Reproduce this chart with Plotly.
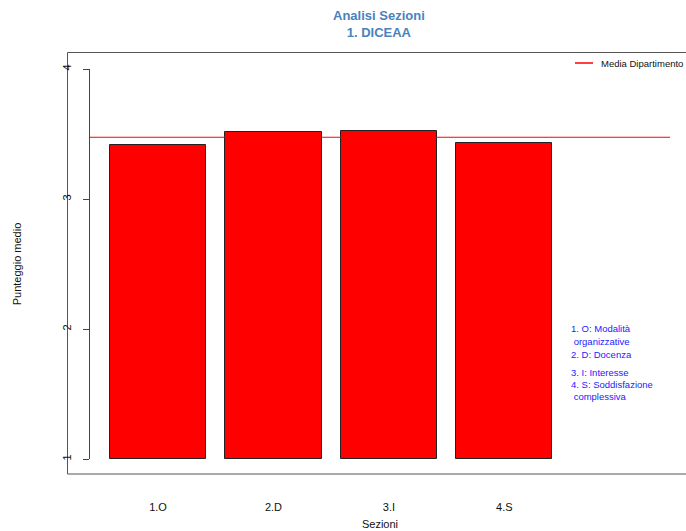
import plotly.graph_objects as go

categories = ["1.O", "2.D", "3.I", "4.S"]
values = [3.415, 3.513, 3.522, 3.433]
media_dipartimento = 3.475
y_ticks = [1, 2, 3, 4]
bar_positions = [0.7, 1.9, 3.1, 4.3]
title_lines = ["Analisi Sezioni", "1. DICEAA"]
legenda_sezioni = [
    ("1. O: Modalità", 328),
    (" organizzative", 341),
    ("2. D: Docenza", 354),
    ("3. I: Interesse", 372),
    ("4. S: Soddisfazione", 384),
    (" complessiva", 396),
]

FONT = "Liberation Sans, Arial, Helvetica, sans-serif"
W, H = 686, 531
L, R, T, B = 90, 16, 69, 72
PW, PH = W - L - R, H - T - B

def px_x(p):
    return (p - L) / PW

def px_y(p):
    return (H - B - p) / PH

xr = [-0.007, 6.022]

fig = go.Figure()
fig.add_trace(go.Bar(
    x=bar_positions, y=[v - 1 for v in values], base=1, width=1.0,
    marker=dict(color="#ff0000", line=dict(color="#222222", width=1)),
    showlegend=False, hovertext=[str(v) for v in values],
))
fig.add_trace(go.Scatter(
    x=xr, y=[media_dipartimento, media_dipartimento], mode="lines",
    line=dict(color="#ff0000", width=1.2), name="Media Dipartimento",
    showlegend=False,
))

shapes = [
    dict(type="rect", xref="paper", yref="paper",
         x0=px_x(67.5), x1=px_x(700), y0=px_y(474), y1=px_y(52.5),
         line=dict(color="#555555", width=1), fillcolor="rgba(0,0,0,0)", layer="below"),
    dict(type="line", xref="paper", yref="paper",
         x0=px_x(575), x1=px_x(593), y0=px_y(63), y1=px_y(63),
         line=dict(color="#ff0000", width=1.5)),
]

annotations = [
    dict(text="<br>".join("<b>" + t + "</b>" for t in title_lines), xref="paper", yref="paper",
         x=px_x(379), y=px_y(24), xanchor="center", yanchor="middle",
         showarrow=False, font=dict(family=FONT, size=13, color="#4a82bd")),
    dict(text="Media Dipartimento", xref="paper", yref="paper",
         x=px_x(599), y=px_y(63.5), xanchor="left", yanchor="middle", showarrow=False,
         font=dict(family=FONT, size=9.5, color="#111111")),
]
for txt, yy in legenda_sezioni:
    annotations.append(dict(text=txt.replace(" ", "&nbsp;", 1) if txt.startswith(" ") else txt,
                            xref="paper", yref="paper", x=px_x(569), y=px_y(yy),
                            xanchor="left", yanchor="middle", showarrow=False,
                            font=dict(family=FONT, size=9.5, color="#2222ff")))

fig.update_layout(
    width=W, height=H, margin=dict(l=L, r=R, t=T, b=B, autoexpand=False),
    paper_bgcolor="white", plot_bgcolor="white",
    font=dict(family=FONT, size=11, color="#111111"),
    shapes=shapes, annotations=annotations, bargap=0,
    xaxis=dict(range=xr, tickvals=bar_positions, ticktext=categories,
               showline=False, showgrid=False, zeroline=False, ticks="",
               ticklabelstandoff=40, tickfont=dict(size=11),
               title=dict(text="Sezioni", font=dict(size=11), standoff=8)),
    yaxis=dict(range=[1, 4], tickvals=y_ticks, ticktext=[str(t) for t in y_ticks],
               showline=True, linecolor="#444444", linewidth=1, showgrid=False,
               zeroline=False, ticks="outside", ticklen=6, tickcolor="#444444",
               tickangle=-90, ticklabelstandoff=8, tickfont=dict(size=11),
               title=dict(text="Punteggio medio", font=dict(size=11), standoff=36)),
)

fig.write_html("out.html", config={"displayModeBar": False},
               post_script="document.body.style.margin='0';")
